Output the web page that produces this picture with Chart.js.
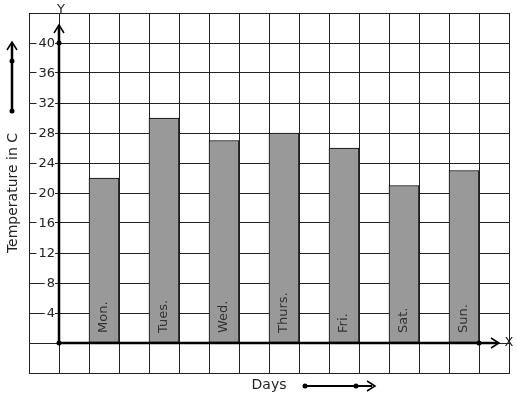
<!DOCTYPE html>
<html lang="en">

<head>
  <meta charset="utf-8">
  <title>Temperature by Day</title>
  <script src="https://cdn.jsdelivr.net/npm/chart.js@4.4.0/dist/chart.umd.min.js"></script>
  <style>
    body { margin: 0; background: #fff; }
    #wrap { width: 517px; height: 399px; }
  </style>
</head>

<body>
  <div id="wrap"><canvas id="myChart" width="517" height="399"></canvas></div>

  <script>
    // chart data
    var days = ['Mon.', 'Tues.', 'Wed.', 'Thurs.', 'Fri.', 'Sat.', 'Sun.'];
    var dayPos = [1.5, 3.5, 5.5, 7.5, 9.5, 11.5, 13.5];
    var temps = [22, 30, 27, 28, 26, 21, 23];
    var yTicks = [4, 8, 12, 16, 20, 24, 28, 32, 36, 40];

    var points = [];
    for (var i = 0; i < days.length; i++) {
      points.push({ x: dayPos[i], y: temps[i] });
    }

    var FONT = '13px "DejaVu Sans", sans-serif';

    function chevron(ctx, x, y, dir) {
      // open arrow head, dir 'up' or 'right'
      ctx.beginPath();
      if (dir == 'up') {
        ctx.moveTo(x - 5, y + 8);
        ctx.lineTo(x, y);
        ctx.lineTo(x + 5, y + 8);
      } else {
        ctx.moveTo(x - 8, y - 5);
        ctx.lineTo(x, y);
        ctx.lineTo(x - 8, y + 5);
      }
      ctx.stroke();
    }

    function dot(ctx, x, y) {
      ctx.beginPath();
      ctx.arc(x, y, 2.5, 0, Math.PI * 2);
      ctx.fill();
    }

    var decorations = {
      id: 'decorations',
      afterDatasetsDraw: function (chart) {
        var ctx = chart.ctx;
        var xs = chart.scales.x;
        var ys = chart.scales.y;
        var x0 = xs.getPixelForValue(0);
        var y0 = ys.getPixelForValue(0);
        ctx.save();
        ctx.strokeStyle = '#000';
        ctx.fillStyle = '#000';
        ctx.lineWidth = 2.5;

        // Y axis
        ctx.beginPath();
        ctx.moveTo(x0, y0);
        ctx.lineTo(x0, chart.chartArea.top + 12);
        ctx.stroke();
        ctx.lineWidth = 1.5;
        chevron(ctx, x0, chart.chartArea.top + 12, 'up');
        ctx.lineWidth = 2.5;
        dot(ctx, x0, ys.getPixelForValue(40));

        // X axis
        ctx.beginPath();
        ctx.moveTo(x0, y0);
        ctx.lineTo(chart.chartArea.right - 12, y0);
        ctx.stroke();
        ctx.lineWidth = 1.5;
        chevron(ctx, chart.chartArea.right - 10, y0, 'right');
        dot(ctx, x0, y0);
        dot(ctx, xs.getPixelForValue(14), y0);

        ctx.font = FONT;
        ctx.fillStyle = '#222';
        ctx.textBaseline = 'middle';

        // y tick labels with white boxes
        ctx.textAlign = 'right';
        for (var i = 0; i < yTicks.length; i++) {
          var ty = ys.getPixelForValue(yTicks[i]);
          var w = ctx.measureText(String(yTicks[i])).width;
          ctx.fillStyle = '#fff';
          ctx.fillRect(x0 - 5 - w - 1, ty - 1.5, w + 2, 3);
          ctx.fillStyle = '#222';
          ctx.fillText(String(yTicks[i]), x0 - 4, ty + 1);
        }

        // day names inside the bars
        var meta = chart.getDatasetMeta(0);
        ctx.textAlign = 'left';
        for (var j = 0; j < days.length; j++) {
          var bar = meta.data[j];
          ctx.save();
          ctx.translate(bar.x, y0 - 10);
          ctx.rotate(-Math.PI / 2);
          ctx.fillStyle = '#333';
          ctx.fillText(days[j], 0, 0);
          ctx.restore();
        }

        // axis letters
        ctx.fillStyle = '#222';
        ctx.textAlign = 'center';
        ctx.fillText('Y', x0 + 2, 10);
        ctx.fillText('X', 509, y0);
        ctx.font = '14px "DejaVu Sans", sans-serif';
        ctx.fillText('Days', 269, 385);

        // Y title
        ctx.save();
        ctx.translate(13, 193);
        ctx.rotate(-Math.PI / 2);
        ctx.fillText('Temperature in C', 0, 0);
        ctx.restore();

        // side arrow (y direction)
        ctx.strokeStyle = '#000';
        ctx.fillStyle = '#000';
        ctx.lineWidth = 2.5;
        ctx.beginPath();
        ctx.moveTo(12, 111);
        ctx.lineTo(12, 44);
        ctx.stroke();
        ctx.lineWidth = 1.5;
        chevron(ctx, 12, 42, 'up');
        dot(ctx, 12, 61);
        dot(ctx, 12, 111);

        // bottom arrow (x direction)
        ctx.lineWidth = 2;
        ctx.beginPath();
        ctx.moveTo(305, 386);
        ctx.lineTo(372, 386);
        ctx.stroke();
        ctx.lineWidth = 1.5;
        chevron(ctx, 375, 386, 'right');
        dot(ctx, 305, 386);
        dot(ctx, 356, 386);

        ctx.restore();
      }
    };

    var ctx = document.getElementById('myChart');
    var myChart = new Chart(ctx, {
      type: 'bar',
      data: {
        datasets: [{
          data: points,
          backgroundColor: '#999999',
          borderColor: '#000',
          borderWidth: 1,
          borderSkipped: false,
          barThickness: 30
        }]
      },
      options: {
        responsive: false,
        animation: false,
        devicePixelRatio: 1,
        layout: { padding: { left: 29, right: 8, top: 13, bottom: 26 } },
        plugins: { legend: { display: false }, tooltip: { enabled: false } },
        scales: {
          x: {
            type: 'linear',
            min: -1,
            max: 15,
            offset: false,
            ticks: { display: false, stepSize: 1 },
            grid: { color: '#222', lineWidth: 1, drawTicks: false, offset: false },
            border: { display: true, color: '#222', width: 1 }
          },
          y: {
            min: -4,
            max: 44,
            ticks: { display: false, stepSize: 4 },
            grid: { color: '#222', lineWidth: 1, drawTicks: false },
            border: { display: true, color: '#222', width: 1 }
          }
        }
      },
      plugins: [decorations]
    });
  </script>
</body>

</html>
